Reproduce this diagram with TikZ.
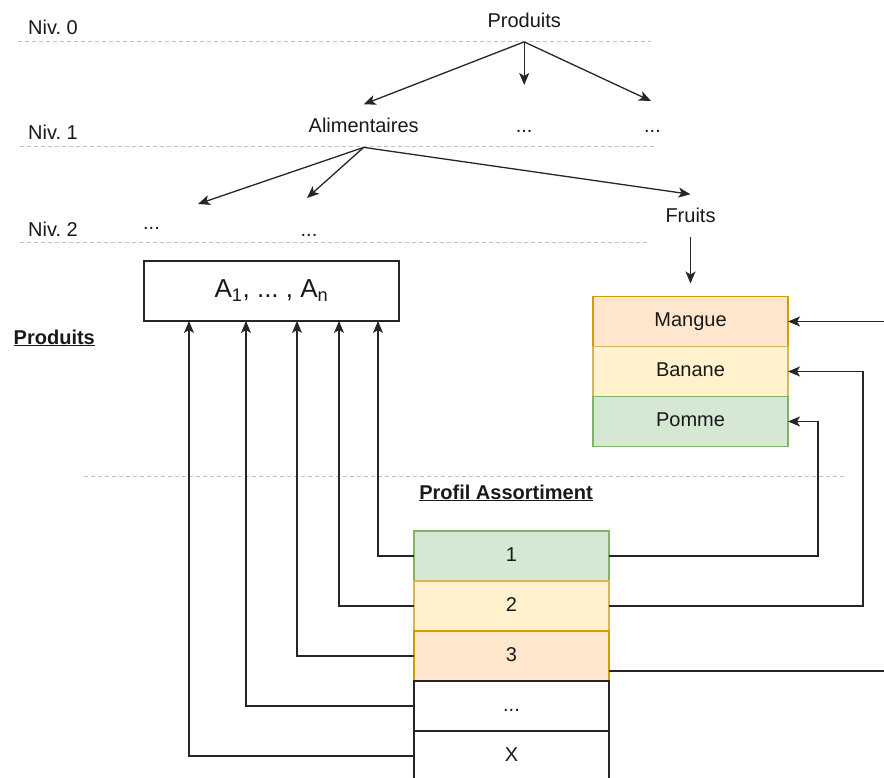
\documentclass[tikz,border=0pt]{standalone}
\usepackage{fontspec}
\setmainfont{Liberation Sans}
\usetikzlibrary{arrows.meta,positioning}
\definecolor{mangofill}{HTML}{FFE6CC}
\definecolor{mangodraw}{HTML}{D79B00}
\definecolor{bananafill}{HTML}{FFF2CC}
\definecolor{bananadraw}{HTML}{D6B656}
\definecolor{applefill}{HTML}{D5E8D4}
\definecolor{appledraw}{HTML}{82B366}
\frenchspacing
\tikzset{
    %Define standard arrow tip
    >={Stealth[length=12pt,width=10pt,inset=3pt]},
    %Define style for the level lines
    niveau/.style={
           draw=black!25,
           dash pattern=on 4pt off 3pt,
           line width=0.8pt},
    %Define style for texts
    etiq/.style={
           font=\fontsize{20}{24}\selectfont,
           text=black!90,
           inner sep=0pt},
    arbre/.style={
           etiq,
           inner xsep=2pt,
           inner ysep=14pt,
           anchor=base},
    titre/.style={
           etiq,
           font=\fontsize{20}{24}\selectfont\bfseries,
           anchor=base},
    %Define style for boxes
    case/.style={
           rectangle,
           draw=black!85, line width=1.2pt,
           fill=white,
           minimum width=195pt,
           minimum height=50pt,
           inner sep=0pt,
           outer sep=0pt,
           text height=14.5pt,
           text depth=4pt,
           font=\fontsize{20}{24}\selectfont,
           text=black!90,
           text centered},
    casemangue/.style={
           case,
           fill=mangofill,
           draw=mangodraw},
    casebanane/.style={
           case,
           fill=bananafill,
           draw=bananadraw},
    casepomme/.style={
           case,
           fill=applefill,
           draw=appledraw},
    % Define arrow style
    fleche/.style={
           ->,
           draw=black!85,
           line width=1.3pt}
}
\begin{document}
\begin{tikzpicture}[x=1pt,y=-1pt,node distance=0pt]
\useasboundingbox (0,0) rectangle (884,778);
% levels
\node[etiq, anchor=base west] (niv0) at (28,35) {Niv. 0};
\node[etiq, anchor=base west] (niv1) at (28,140) {Niv. 1};
\node[etiq, anchor=base west] (niv2) at (28,237) {Niv. 2};
\draw[niveau] (18,41.7) -- (651,41.7);
\draw[niveau] (20,146.5) -- (654,146.5);
\draw[niveau] (20,242) -- (650,242);
\draw[niveau] (84,476) -- (845,476);
% tree
\node[arbre] (prod) at (524.2,27.5) {Produits};
\node[arbre] (alim) at (363.7,133) {Alimentaires};
\node[arbre] (n1a) at (524.2,132.5) {...};
\node[arbre] (n1b) at (652.5,132.5) {...};
\node[arbre] (n2a) at (151.5,230) {...};
\node[arbre] (n2b) at (309,236.5) {...};
\node[arbre] (fruits) at (690.5,223) {Fruits};
\coordinate (t1a) at (524.2,85);
\coordinate (t1b) at (651,101);
\coordinate (t2a) at (198,204);
\coordinate (t2b) at (307,198);
\draw[fleche] (prod.south) -- (alim.north);
\draw[fleche] (prod.south) -- (t1a);
\draw[fleche] (prod.south) -- (t1b);
\draw[fleche] (alim.south) -- (t2a);
\draw[fleche] (alim.south) -- (t2b);
\draw[fleche] (alim.south) -- (fruits.north);
% fruits
\node[casemangue] (mangue) at (690.5,321.5) {Mangue};
\node[casebanane, below=of mangue] (banane) {Banane};
\node[casepomme, below=of banane] (pomme) {Pomme};
\draw[fleche, shorten >=13pt] (fruits.south) -- (mangue.north);
% products
\node[case, minimum width=255pt, minimum height=60pt, text height=19pt,
      text depth=5pt, font=\fontsize{26}{30}\selectfont] (attr) at (271.5,291)
      {A\textsubscript{1}, ... , A\textsubscript{n}};
\node[titre] (tprod) at (54.3,344) {\underline{Produits}};
% assortment profile
\node[titre] (tprofil) at (506,499) {\underline{Profil Assortiment}};
\node[casepomme] (p1) at (511.5,556) {1};
\node[casebanane, below=of p1] (p2) {2};
\node[casemangue, below=of p2] (p3) {3};
\node[case, below=of p3] (pn) {...};
\node[case, below=of pn] (px) {X};
\foreach \ligne/\dx in {p1/234,p2/195,p3/153,pn/102,px/45}
  \draw[fleche] (\ligne.west) -| ([xshift=\dx pt]attr.south west);
\draw[fleche] (p1.east) -- ++(209,0) |- (pomme.east);
\draw[fleche] (p2.east) -- ++(254,0) |- (banane.east);
\draw[fleche] ([yshift=-15pt]p3.east) -- ++(300,0) |- (mangue.east);
\end{tikzpicture}
\end{document}
